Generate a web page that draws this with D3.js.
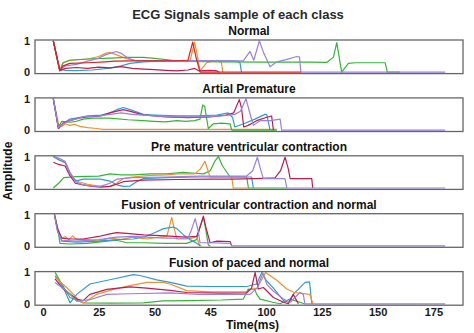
<!DOCTYPE html>
<html>
<head>
<meta charset="utf-8">
<script src="https://cdn.jsdelivr.net/npm/d3@7/dist/d3.min.js"></script>
<style>
  html, body { margin: 0; padding: 0; background: #ffffff; }
  svg { display: block; font-family: "Liberation Sans", Arial, Helvetica, sans-serif; }
</style>
</head>
<body>
<svg id="chart" width="474" height="333"></svg>
<script>
// ---- chart text ----
const chartTitle = "ECG Signals sample of each class";
const panelTitles = [
  "Normal",
  "Artial Premature",
  "Pre mature ventricular contraction",
  "Fusion of ventricular contraction and normal",
  "Fusion of paced and normal"
];
const xTickValues = [0, 25, 50, 75, 100, 125, 150, 175];
const xTickLabels = ["0", "25", "50", "45", "100", "125", "150", "175"];
const yTickValues = [0, 1];
const xLabel = "Time(ms)";
const yLabel = "Amplitude";

// ---- line colours ----
const lineColors = {
  blue: "#2e9bd6",
  orange: "#f0922b",
  green: "#35b535",
  red: "#e0201e",
  purple: "#9b7fe3",
  crimson: "#c21a4e"
};

// ---- Normal beats: [time, amplitude] ----
const normalBlue = [[4.6,1],[7.5,0.1],[10,0.06],[15,0.05],[22,0.07],[30,0.13],[35,0.2],[39,0.28],[45,0.33],[55,0.36],[70,0.37],[80,0.36],[87,0.35],[88.3,0.3],[89,0]];
const normalOrange = [[4.6,1],[7.5,0.05],[9,0.3],[12,0.38],[20,0.42],[25,0.5],[28,0.6],[30,0.63],[33,0.55],[38,0.42],[42,0.36],[50,0.37],[60,0.36],[66,0.38],[67.9,0.96],[69,0.6],[70.4,0.05],[73.4,0.3],[77.9,0.38],[80,0.3],[80.6,0]];
const normalGreen = [[4.6,1],[7.5,0.05],[9,0.3],[12,0.38],[20,0.42],[30,0.45],[38,0.47],[45,0.47],[50,0.44],[58,0.38],[65,0.34],[80,0.33],[100,0.32],[120,0.32],[127.2,0.31],[130.2,0.48],[131.7,0.94],[133.9,0],[136.9,0.28],[140,0.3],[153.4,0.3],[154.4,0],[160,0]];
const normalPurple = [[4.6,1],[7.5,0.08],[10,0.2],[15,0.25],[20,0.35],[25,0.45],[28,0.55],[31,0.62],[33,0.66],[35,0.6],[38,0.45],[41,0.38],[50,0.37],[70,0.37],[85,0.36],[89.8,0.36],[92.8,0.66],[94.5,0.38],[97,1.0],[99,0.6],[101.8,0.17],[104.8,0.33],[109,0.4],[113.8,0.5],[115,0.48],[115.6,0],[180.3,0]];
const normalCrimson = [[4.6,1],[7.5,0.05],[10,0.12],[15,0.15],[20,0.12],[25,0.16],[30,0.14],[35,0.18],[40,0.12],[45,0.1],[50,0.08],[55,0.06],[60,0.04],[65,0.07],[68,0.12],[70,0.04],[75,0.06],[78,0.04],[79,0]];
const normalRed = [[4.6,1],[7.5,0.05],[9,0.2],[12,0.28],[20,0.3],[28,0.33],[32,0.35],[40,0.36],[50,0.36],[60,0.36],[65,0.38],[67.1,0.96],[68.5,0.5],[70.4,0],[115.6,0]];

// ---- Atrial premature beats ----
const apOrange = [[4.6,1],[6.9,0.2],[8.5,0.12],[10,0.2],[12,0.15],[14,0.18],[16.6,0.12],[20,0.08],[24,0.05],[27,0.02],[104.8,0.02]];
const apGreen = [[4.6,1],[6.9,0.08],[8.4,0.28],[12,0.25],[15,0.28],[18,0.35],[22,0.38],[30,0.38],[38,0.33],[45,0.3],[49.5,0.28],[55,0.26],[60,0.3],[64,0.28],[68,0.3],[70.4,0.35],[71.6,0.8],[72.5,0.75],[74.1,0.05],[76.4,0.2],[80,0.22],[83.9,0.2],[84.6,0],[104.8,0]];
const apBlue = [[4.6,1],[6.9,0.05],[9,0.2],[12,0.35],[16,0.4],[20,0.45],[26,0.48],[30,0.55],[33,0.65],[36,0.72],[39,0.65],[45,0.5],[50,0.48],[60,0.45],[70,0.45],[78,0.48],[83,0.55],[85,0.4],[86,0.1],[90,0.2],[95,0.35],[99.5,0.5],[100.3,0.5],[101.8,0]];
const apCrimson = [[4.6,1],[6.9,0.05],[9,0.22],[12,0.3],[16,0.38],[20,0.42],[26,0.45],[30,0.55],[34,0.62],[36,0.65],[40,0.58],[45,0.48],[55,0.42],[65,0.4],[75,0.42],[82,0.48],[85.5,0.55],[88,0.97],[89,0.7],[90,0.1],[92,0.15],[95.8,0.3],[100,0.4],[102.5,0.45],[103.3,0]];
const apPurple = [[4.6,1],[6.9,0.08],[9,0.2],[12,0.3],[18,0.42],[25,0.45],[30,0.5],[35,0.55],[40,0.5],[50,0.45],[60,0.42],[70,0.42],[80,0.45],[86,0.5],[88.5,0.6],[91,1.0],[92.5,0.6],[94.3,0.15],[97.3,0.3],[102,0.3],[106.3,0.35],[107,0],[180.3,0]];

// ---- Premature ventricular contraction ----
const pvcGreen = [[4.6,0],[7,0.15],[9.3,0.33],[15,0.36],[25,0.38],[30,0.45],[35,0.42],[40.5,0.42],[48,0.45],[55.5,0.45],[62.9,0.5],[68,0.47],[72,0.45],[75,0.55],[77,0.85],[78.6,1.0],[80.5,0.7],[83.9,0.35],[91.3,0.35],[92.1,0],[109.3,0]];
const pvcOrange = [[4.6,1],[7,0.9],[9.9,0.8],[12,0.5],[13.6,0.3],[16,0.2],[20,0.12],[25.6,0.05],[30,0.05],[33,0.15],[36,0.3],[40,0.35],[48,0.4],[55.5,0.42],[60,0.45],[68,0.45],[70.5,0.6],[72.6,0.85],[74,0.55],[74.9,0.35],[84.6,0.35],[85.3,0],[92,0]];
const pvcBlue = [[4.6,1],[7,0.9],[9.9,0.82],[12,0.5],[14.5,0.22],[18,0.28],[25.6,0.28],[30,0.22],[33,0.1],[36,0.05],[39,0.06],[42,0.2],[45,0.3],[55,0.33],[70,0.35],[85,0.35],[93.5,0.35],[94.3,0]];
const pvcPurple = [[4.6,1],[7,0.95],[9.9,0.85],[12,0.5],[14.5,0.2],[18,0.1],[22,0.06],[25.6,0.05],[30,0.15],[33,0.28],[40,0.33],[55,0.35],[70,0.38],[85,0.38],[91.3,0.38],[94,0.55],[96.1,0.98],[97.5,0.6],[98.8,0.3],[108.5,0.3],[109.3,0],[180.3,0]];
const pvcCrimson = [[4.6,0.82],[7,0.75],[9.9,0.7],[12,0.4],[14.5,0.15],[18,0.1],[22,0.05],[26,0.03],[30,0.05],[33,0.12],[36,0.2],[45,0.25],[60,0.27],[75,0.28],[85,0.28],[95,0.3],[104,0.32],[106.5,0.55],[108.5,0.98],[110,0.6],[110.8,0.3],[120.5,0.3],[120.9,0]];

// ---- Fusion of ventricular and normal ----
const fvnGreen = [[5.1,1],[6.5,0.6],[7.6,0.08],[12,0.06],[20,0.08],[28.6,0.15],[33,0.18],[37.5,0.1],[45,0.1],[55,0.08],[64.4,0.08],[68.9,0.2],[70.4,0.6],[71.9,0.9],[73,0.5],[74.1,0.03],[75,0]];
const fvnOrange = [[5.1,1],[6.5,0.5],[8.4,0.25],[10,0.3],[11.5,0.2],[13.3,0.32],[15,0.2],[20,0.2],[25,0.15],[30,0.25],[35,0.2],[40,0.28],[43.5,0.25],[47,0.22],[50,0.26],[55.5,0.3],[57.7,0.91],[59,0.5],[60,0.22],[64,0.22],[67,0.25],[68.9,0.3],[70,0.05],[71,0]];
const fvnBlue = [[5.1,1],[6.5,0.5],[8.4,0.15],[15,0.12],[25,0.15],[33,0.2],[40.5,0.22],[46,0.3],[50,0.42],[54,0.55],[58.4,0.6],[60,0.55],[63,0.35],[65.9,0.2],[68,0.12],[69.5,0.05],[70.5,0]];
const fvnPurple = [[5.1,1],[6.5,0.45],[8.4,0.18],[15,0.15],[25,0.2],[33,0.28],[40,0.3],[48,0.27],[55,0.25],[60,0.25],[65,0.25],[66.5,0.5],[68.2,0.87],[69.5,0.5],[70.4,0.1],[75,0.1],[83.9,0.08],[84.6,0],[180.3,0]];
const fvnCrimson = [[5.1,1],[6.5,0.55],[8.4,0.25],[12,0.22],[18,0.22],[25,0.3],[30,0.38],[33,0.42],[37.5,0.4],[45,0.35],[55,0.32],[64,0.28],[68.9,0.3],[70.4,0.6],[71.9,0.95],[73,0.6],[74.9,0.1],[78,0.15],[83.9,0.14],[84.6,0]];

// ---- Fusion of paced and normal ----
const fpnGreen = [[5.4,1],[8.4,0.63],[12.1,0.2],[18.1,0.03],[30,0.02],[45,0.03],[53.8,0.09],[65,0.1],[80,0.12],[89.8,0.15],[92,0.47],[95,0.45],[95.8,0.3],[97.3,0.15],[103,0.05],[106.3,0],[110.8,0.15],[115.2,0.05],[117,0]];
const fpnBlue = [[5.4,0.9],[9.1,0.52],[12.1,0.03],[15.1,0.3],[21.1,0.63],[31.5,0.79],[40.5,0.93],[43.5,0.9],[51,0.76],[57,0.68],[64.4,0.56],[75,0.55],[91.3,0.55],[95.8,0.63],[98.1,1.0],[100,0.75],[103.3,0.5],[107.8,0.1],[110,0.05],[112.2,0.3],[117.5,0.68],[119.5,0.7],[120.5,0]];
const fpnOrange = [[5.4,0.84],[10.6,0.52],[16.6,0.08],[18.5,0.03],[24,0.3],[31.5,0.46],[39,0.58],[46.5,0.68],[53.8,0.68],[57,0.63],[64.4,0.42],[75,0.38],[91.3,0.38],[92.8,0.45],[96,0.5],[99.8,1.0],[104.8,0.75],[109.3,0.47],[112.7,0.36],[119.6,0.3],[121,0]];
const fpnPurple = [[5.4,0.68],[10.6,0.41],[15.1,0.08],[21,0.13],[28.6,0.3],[39,0.32],[57,0.35],[70,0.3],[92.8,0.3],[96,0.5],[98.6,0.98],[100.5,0.6],[103.3,0.4],[107.8,0.15],[110.8,0.05],[115.2,0.36],[116.7,0.3],[117.4,0],[180.3,0]];
const fpnCrimson = [[5.4,0.79],[9.1,0.47],[15.1,0.15],[18,0.1],[21,0.3],[28.6,0.46],[39,0.54],[46.5,0.5],[57,0.43],[64.4,0.36],[80,0.34],[91.3,0.35],[93.5,0.5],[95.1,1.0],[96.5,0.47],[98.8,0.52],[103.3,0.2],[107.8,0.05],[110,0],[112.2,0.3],[113.7,0.1],[114.5,0]];

// Series per class, in drawing order
const classSeries = [
  [["blue", normalBlue], ["orange", normalOrange], ["green", normalGreen], ["purple", normalPurple], ["crimson", normalCrimson], ["red", normalRed]],
  [["orange", apOrange], ["green", apGreen], ["blue", apBlue], ["crimson", apCrimson], ["purple", apPurple]],
  [["green", pvcGreen], ["orange", pvcOrange], ["blue", pvcBlue], ["crimson", pvcCrimson], ["purple", pvcPurple]],
  [["green", fvnGreen], ["orange", fvnOrange], ["blue", fvnBlue], ["crimson", fvnCrimson], ["purple", fvnPurple]],
  [["green", fpnGreen], ["blue", fpnBlue], ["orange", fpnOrange], ["crimson", fpnCrimson], ["purple", fpnPurple]]
];

// ---- layout ----
const svg = d3.select("#chart");
const plotLeft = 35, plotRight = 463;
const panelTop0 = 40, panelStep = 57.9, panelHeight = 33.6;

const x = d3.scaleLinear().domain([-3.6, 188.3]).range([plotLeft, plotRight]);

svg.append("text")
  .attr("x", 238).attr("y", 18.5)
  .attr("text-anchor", "middle")
  .attr("font-size", 13).attr("font-weight", "bold")
  .attr("fill", "#2a2a2a")
  .text(chartTitle);

classSeries.forEach((seriesList, i) => {
  const top = panelTop0 + i * panelStep;
  const bottom = top + panelHeight;
  const y = d3.scaleLinear().domain([-0.045, 1.025]).range([bottom, top]);
  const g = svg.append("g");

  g.append("text")
    .attr("x", (plotLeft + plotRight) / 2).attr("y", top - 5)
    .attr("text-anchor", "middle")
    .attr("font-size", 12).attr("font-weight", "bold")
    .attr("fill", "#111")
    .text(panelTitles[i]);

  const line = d3.line().x(d => x(d[0])).y(d => y(d[1]));
  seriesList.forEach(([colorKey, pts]) => {
    g.append("path")
      .datum(pts)
      .attr("fill", "none")
      .attr("stroke", lineColors[colorKey])
      .attr("stroke-width", 1.2)
      .attr("stroke-linejoin", "round")
      .attr("d", line);
  });

  // y axis labels
  const yAxis = d3.axisLeft(y).tickValues(yTickValues).tickFormat(d3.format("d")).tickSize(0).tickPadding(5);
  const ya = g.append("g").attr("transform", `translate(${plotLeft},0)`).call(yAxis);
  ya.select(".domain").remove();
  ya.selectAll("text").attr("font-size", 11).attr("font-weight", "bold").attr("fill", "#1a1a1a")
    .attr("font-family", "Liberation Sans, Arial, sans-serif");

  // frame
  g.append("rect")
    .attr("x", plotLeft).attr("y", top)
    .attr("width", plotRight - plotLeft).attr("height", panelHeight)
    .attr("fill", "none").attr("stroke", "#666").attr("stroke-width", 1.3);

  if (i === classSeries.length - 1) {
    const xAxis = d3.axisBottom(x).tickValues(xTickValues)
      .tickFormat((d, k) => xTickLabels[k]).tickSize(0).tickPadding(3);
    const xa = g.append("g").attr("transform", `translate(0,${bottom})`).call(xAxis);
    xa.select(".domain").remove();
    xa.selectAll("text").attr("font-size", 11).attr("font-weight", "bold").attr("fill", "#1a1a1a")
      .attr("font-family", "Liberation Sans, Arial, sans-serif");
  }
});

svg.append("text")
  .attr("x", 252.5).attr("y", 328.5)
  .attr("text-anchor", "middle")
  .attr("font-size", 12).attr("font-weight", "bold")
  .attr("fill", "#111")
  .text(xLabel);

svg.append("text")
  .attr("transform", "translate(11.5,171) rotate(-90)")
  .attr("text-anchor", "middle")
  .attr("font-size", 12).attr("font-weight", "bold")
  .attr("fill", "#111")
  .text(yLabel);
</script>
</body>
</html>
